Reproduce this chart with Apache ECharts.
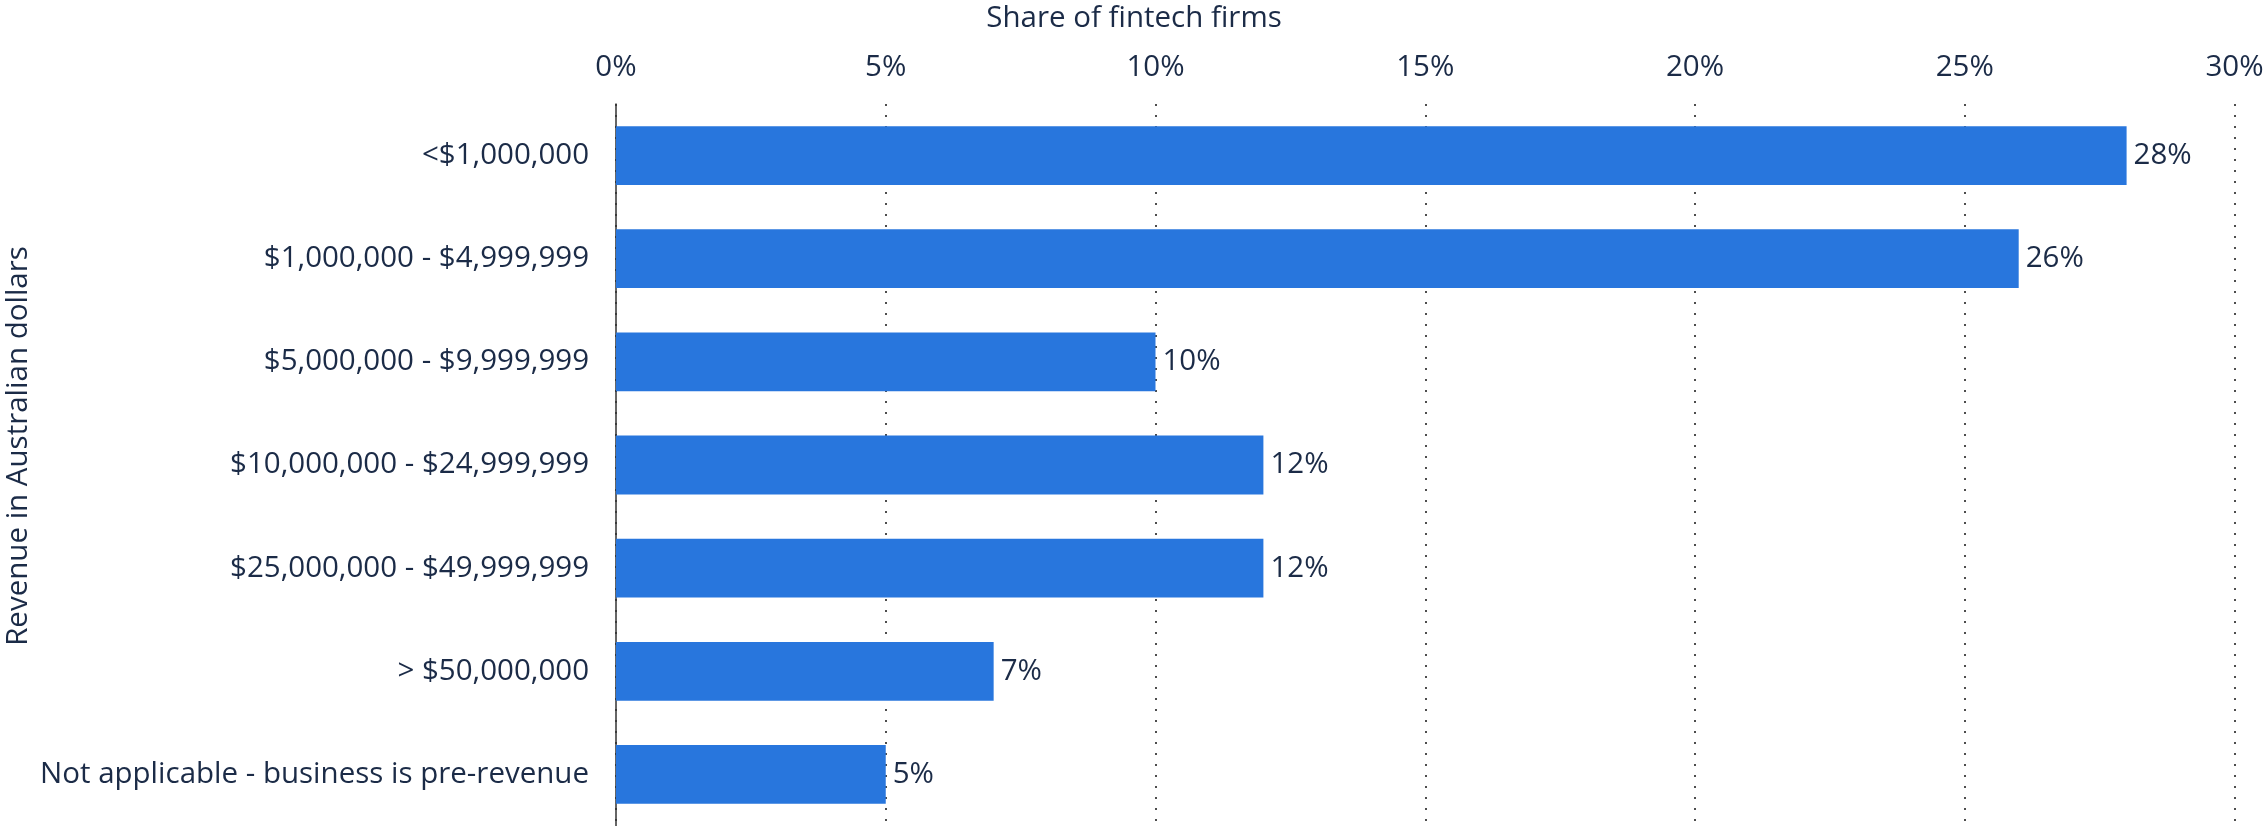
<!DOCTYPE html>
<html>
<head>
<meta charset="utf-8">
<script src="https://cdn.jsdelivr.net/npm/echarts@6/dist/echarts.min.js"></script>
<style>html,body{margin:0;padding:0;background:#fff}#c{width:2268px;height:826px}</style>
</head>
<body>
<div id="c"></div>
<script>
const categories = [
  '<$1,000,000',
  '$1,000,000 - $4,999,999',
  '$5,000,000 - $9,999,999',
  '$10,000,000 - $24,999,999',
  '$25,000,000 - $49,999,999',
  '> $50,000,000',
  'Not applicable - business is pre-revenue'
];
const shares = [28, 26, 10, 12, 12, 7, 5];
const xTicks = [0, 5, 10, 15, 20, 25, 30];
const xTitle = 'Share of fintech firms';
const yTitle = 'Revenue in Australian dollars';

const txt = '#1b2b47';
const font = 'Open Sans';
const fs = 29.5;
const chart = echarts.init(document.getElementById('c'), null, {renderer: 'canvas'});
chart.setOption({
  animation: false,
  textStyle: {fontFamily: font},
  title: {
    text: xTitle, left: 'center', top: -1,
    textStyle: {fontFamily: font, fontSize: fs, fontWeight: 'normal', color: txt}
  },
  grid: {left: 616, right: 33.5, top: 104, bottom: 0, containLabel: false, outerBoundsMode: 'none'},
  xAxis: {
    type: 'value', position: 'top',
    min: xTicks[0], max: xTicks[xTicks.length - 1], interval: 5,
    axisLine: {show: false}, axisTick: {show: false},
    axisLabel: {formatter: v => v + '%', fontSize: fs, color: txt, margin: 21, fontFamily: font},
    splitLine: {show: true, lineStyle: {type: [2, 9], width: 2, color: '#4d4d4d'}}
  },
  yAxis: {
    type: 'category', data: categories, inverse: true,
    name: yTitle, nameLocation: 'middle', nameGap: 582, nameRotate: 90, nameMoveOverlap: false,
    nameTextStyle: {fontSize: fs, color: txt, fontFamily: font, padding: [0, 0, 0, 38]},
    axisLine: {show: true, lineStyle: {color: '#333', width: 1.5}},
    axisTick: {show: false},
    axisLabel: {fontSize: fs, color: txt, margin: 27, fontFamily: font},
    splitLine: {show: false}
  },
  series: [{
    type: 'bar', data: shares, barWidth: '57%',
    itemStyle: {color: '#2876dd'},
    label: {show: true, position: 'right', distance: 7, formatter: p => p.value + '%',
      fontSize: fs, color: txt, fontFamily: font}
  }]
});
</script>
</body>
</html>
